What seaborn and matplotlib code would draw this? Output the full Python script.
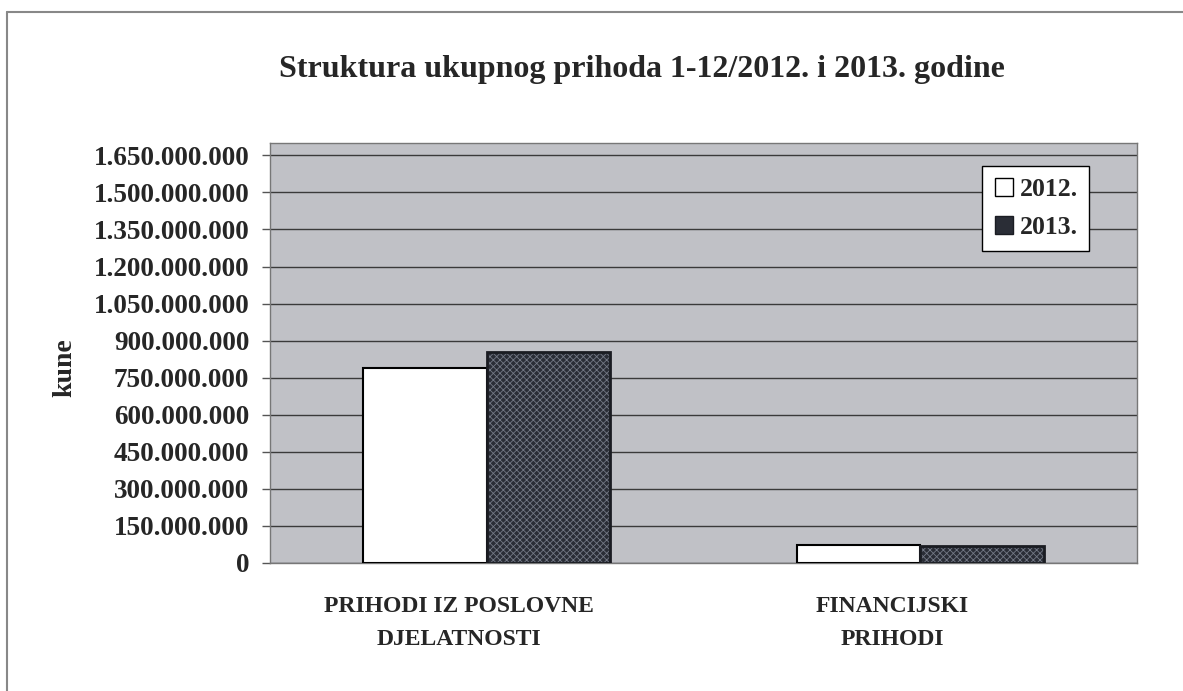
import matplotlib
matplotlib.use('Agg')
import matplotlib.pyplot as plt
import matplotlib.transforms as mtransforms
from matplotlib.patches import Rectangle
from matplotlib.lines import Line2D
import seaborn as sns
import pandas as pd

# ── Data ──────────────────────────────────────────────────────
categories = ['PRIHODI IZ POSLOVNE\nDJELATNOSTI', 'FINANCIJSKI\nPRIHODI']
years      = ['2012.', '2013.']
values_2012 = [790_000_000, 72_000_000]
values_2013 = [855_000_000, 70_000_000]
yticks = list(range(0, 1_650_000_001, 150_000_000))

df = pd.DataFrame({
    'kategorija': categories * 2,
    'godina': [years[0]] * 2 + [years[1]] * 2,
    'kune': values_2012 + values_2013,
})

sns.set_style('white')
plt.rcParams['font.family'] = ['Liberation Serif', 'DejaVu Serif']
plt.rcParams['font.weight'] = 'bold'
plt.rcParams['hatch.linewidth'] = 0.6

fig = plt.figure(figsize=(11.83, 6.91), dpi=100)
ax = fig.add_axes([270 / 1183, 1 - 563 / 691, 867 / 1183, 420 / 691])
ax.set_facecolor('#c0c1c6')

sns.barplot(data=df, x='kategorija', y='kune', hue='godina',
            palette=['white', '#2a2d36'], width=0.57, saturation=1,
            ax=ax, legend=False, zorder=3)

# 2012 white with black outline, 2013 dark with fine cross hatch
n = len(categories)
for i, p in enumerate(ax.patches[:2 * n]):
    if i < n:
        p.set_edgecolor('black')
        p.set_linewidth(1.5)
    else:
        p.set_edgecolor('#737885')
        p.set_hatch('xxxxx')
        p.set_linewidth(0)
        ax.add_patch(Rectangle(p.get_xy(), p.get_width(), p.get_height(),
                               fill=False, ec='#1a1c22', lw=2, zorder=4))

ax.set_ylim(0, 1_700_000_000)
ax.set_xlim(-0.5, n - 0.5)
ax.set_yticks(yticks)
ax.set_yticklabels([f'{v:,}'.replace(',', '.') for v in yticks],
                   fontsize=19.5, fontweight='bold')
ax.yaxis.grid(True, color='#3a3a3a', linewidth=1, zorder=0)
ax.set_axisbelow(True)
ax.tick_params(axis='y', length=6, width=1, color='#555555', direction='out',
               left=True, pad=9)
ax.tick_params(axis='x', length=0, pad=24)
for lab in ax.get_xticklabels():
    lab.set_fontsize(17)
    lab.set_fontweight('bold')
    lab.set_linespacing(1.75)
    lab.set_transform(lab.get_transform() +
                      mtransforms.ScaledTranslation(-0.28, 0, fig.dpi_scale_trans))
for s in ax.spines.values():
    s.set_color('#777777')
    s.set_linewidth(1)

ax.set_xlabel('')
ax.set_ylabel('kune', fontsize=20, fontweight='bold')
ax.yaxis.set_label_coords(-0.222, 0.465)

fig.text(0.543, 0.9, 'Struktura ukupnog prihoda 1-12/2012. i 2013. godine',
         ha='center', va='center', fontsize=23, fontweight='bold')

handles = [Line2D([], [], marker='s', linestyle='', markersize=13,
                  markerfacecolor='white', markeredgecolor='black'),
           Line2D([], [], marker='s', linestyle='', markersize=13,
                  markerfacecolor='#2a2d36', markeredgecolor='#1a1c22')]
leg = ax.legend(handles, years, loc='upper right',
                bbox_to_anchor=(0.945, 0.945), frameon=True, fancybox=False,
                framealpha=1, prop={'size': 18.5, 'weight': 'bold'},
                handletextpad=0.2, borderpad=0.45, labelspacing=0.6,
                handlelength=0.8, borderaxespad=0)
leg.get_frame().set_edgecolor('black')
leg.get_frame().set_linewidth(1)

# page frame from the scan
fig.add_artist(Line2D([7 / 1183, 1], [1 - 12 / 691, 1 - 12 / 691],
                      color='#888888', lw=1.5, transform=fig.transFigure))
fig.add_artist(Line2D([7 / 1183, 7 / 1183], [0, 1 - 12 / 691],
                      color='#888888', lw=1.5, transform=fig.transFigure))

fig.savefig('out.png', dpi=100)
